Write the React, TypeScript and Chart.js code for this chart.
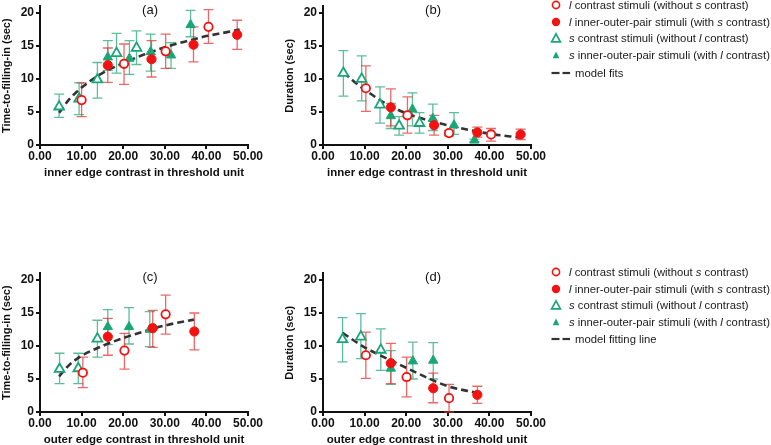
import React, { useEffect, useRef } from 'react';
import { Chart, registerables } from 'chart.js';

Chart.register(...registerables);

const RED = '#f21212';
const GREEN = '#19a677';
const RED_BAR = 'rgba(228, 45, 45, 0.72)';
const GREEN_BAR = 'rgba(30, 165, 115, 0.72)';
const FIT = '#333333';
const FONT = "'Liberation Sans', Arial, Helvetica, sans-serif";

// ---------- Panel (a): inner edge, time-to-filling-in ----------
const aOpenCircleX = [10.0, 20.2, 30.2, 40.5];
const aOpenCircleY = [6.8, 12.3, 14.2, 17.9];
const aOpenCircleHi = [9.4, 15.3, 16.8, 20.5];
const aOpenCircleLo = [4.3, 9.2, 11.6, 15.4];
const aFilledCircleX = [16.3, 26.8, 36.9, 47.4];
const aFilledCircleY = [12.1, 13.0, 15.2, 16.7];
const aFilledCircleHi = [14.7, 15.8, 17.9, 18.9];
const aFilledCircleLo = [9.5, 10.3, 12.6, 14.5];
const aOpenTriX = [4.6, 9.4, 13.8, 18.4, 23.2];
const aOpenTriY = [5.8, 7.0, 9.9, 13.9, 14.7];
const aOpenTriHi = [7.7, 9.4, 12.5, 16.9, 17.3];
const aOpenTriLo = [4.2, 4.6, 7.1, 10.9, 12.2];
const aFilledTriX = [16.3, 21.5, 26.6, 31.5, 36.2];
const aFilledTriY = [13.3, 13.1, 14.1, 13.6, 18.2];
const aFilledTriHi = [15.8, 15.8, 16.8, 15.5, 20.4];
const aFilledTriLo = [11.3, 10.7, 11.2, 11.6, 16.4];
const aFitX = [4.6, 7, 10, 15, 20, 25, 30, 35, 40, 45, 48];
const aFitY = [4.9, 6.9, 8.7, 10.9, 12.4, 13.7, 14.8, 15.7, 16.5, 17.1, 17.5];

// ---------- Panel (b): inner edge, duration ----------
const bOpenCircleX = [10.3, 20.3, 30.3, 40.4];
const bOpenCircleY = [8.6, 4.5, 1.8, 1.6];
const bOpenCircleHi = [12.0, 7.3, 2.2, 2.5];
const bOpenCircleLo = [5.1, 1.8, 1.4, 0.6];
const bFilledCircleX = [16.3, 26.7, 37.1, 47.5];
const bFilledCircleY = [5.7, 3.0, 1.9, 1.6];
const bFilledCircleHi = [8.5, 4.5, 2.7, 2.4];
const bFilledCircleLo = [2.9, 1.5, 1.2, 0.8];
const bOpenTriX = [4.9, 9.3, 13.7, 18.3, 23.2];
const bOpenTriY = [10.9, 10.0, 6.1, 2.9, 3.3];
const bOpenTriHi = [14.3, 13.5, 8.8, 4.3, 4.9];
const bOpenTriLo = [7.4, 6.7, 3.3, 1.5, 1.8];
const bFilledTriX = [16.3, 21.5, 26.4, 31.5, 36.4];
const bFilledTriY = [4.4, 5.4, 4.0, 3.0, 0.7];
const bFilledTriHi = [6.3, 7.9, 6.2, 4.9, 0.9];
const bFilledTriLo = [2.5, 2.9, 2.2, 1.6, 0.5];
const bFitX = [5, 7.5, 10, 15, 20, 25, 30, 35, 40, 45, 47.5];
const bFitY = [11.0, 9.6, 8.4, 6.3, 4.8, 3.8, 3.0, 2.3, 1.7, 1.3, 1.1];

// ---------- Panel (c): outer edge, time-to-filling-in ----------
const cOpenCircleX = [10.3, 20.3, 30.2];
const cOpenCircleY = [5.95, 9.3, 14.8];
const cOpenCircleHi = [8.3, 11.9, 17.7];
const cOpenCircleLo = [3.7, 6.5, 11.8];
const cFilledCircleX = [16.3, 27.1, 37.1];
const cFilledCircleY = [11.4, 12.7, 12.2];
const cFilledCircleHi = [14.2, 15.4, 15.0];
const cFilledCircleLo = [8.6, 9.8, 9.4];
const cOpenTriX = [4.7, 9.2, 13.8];
const cOpenTriY = [6.5, 6.6, 11.1];
const cOpenTriHi = [8.9, 8.9, 13.9];
const cOpenTriLo = [4.3, 4.3, 8.3];
const cFilledTriX = [16.3, 21.4, 26.4];
const cFilledTriY = [12.9, 12.9, 12.5];
const cFilledTriHi = [15.5, 15.8, 15.2];
const cFilledTriLo = [10.2, 10.3, 9.9];
const cFitX = [4.6, 7, 10, 15, 20, 25, 30, 37];
const cFitY = [5.4, 7.1, 8.5, 10.0, 11.2, 12.2, 13.1, 14.0];

// ---------- Panel (d): outer edge, duration ----------
const dOpenCircleX = [10.3, 20.1, 30.3];
const dOpenCircleY = [8.6, 5.3, 2.1];
const dOpenCircleHi = [12.1, 8.3, 4.2];
const dOpenCircleLo = [5.1, 2.3, 0.0];
const dFilledCircleX = [16.3, 26.5, 37.1];
const dFilledCircleY = [7.4, 3.6, 2.6];
const dFilledCircleHi = [10.4, 5.9, 3.9];
const dFilledCircleLo = [4.3, 1.4, 1.3];
const dOpenTriX = [4.7, 9.1, 13.9];
const dOpenTriY = [11.0, 11.4, 9.4];
const dOpenTriHi = [14.3, 14.9, 12.6];
const dOpenTriLo = [7.6, 8.1, 6.3];
const dFilledTriX = [16.3, 21.6, 26.5];
const dFilledTriY = [6.6, 7.7, 7.8];
const dFilledTriHi = [9.3, 10.6, 10.5];
const dFilledTriLo = [4.2, 5.0, 5.0];
const dFitX = [4.7, 7.5, 10, 15, 20, 25, 30, 37];
const dFitY = [12.0, 10.8, 9.8, 8.2, 6.7, 5.2, 3.9, 2.9];

const X_TICK_STEP = 10;
const Y_TICK_STEP = 5;
const X_MAX = 50;
const Y_MAX = 21;

const pts = (xs: number[], ys: number[]) => xs.map((x, i) => ({ x, y: ys[i] }));

const errorBarPlugin = {
  id: 'errorBars',
  beforeDatasetsDraw(chart: any) {
    const { ctx } = chart;
    const xs = chart.scales.x;
    const ys = chart.scales.y;
    ctx.save();
    const list = chart.data.datasets.slice().reverse();
    list.forEach((ds: any) => {
      if (!ds.errHi) return;
      ctx.strokeStyle = ds.errColor;
      ctx.lineWidth = 1.3;
      ds.data.forEach((p: any, i: number) => {
        const px = xs.getPixelForValue(p.x);
        const top = ys.getPixelForValue(ds.errHi[i]);
        const bot = ys.getPixelForValue(ds.errLo[i]);
        ctx.beginPath();
        ctx.moveTo(px, top);
        ctx.lineTo(px, bot);
        ctx.moveTo(px - 5, top);
        ctx.lineTo(px + 5, top);
        ctx.moveTo(px - 5, bot);
        ctx.lineTo(px + 5, bot);
        ctx.stroke();
      });
    });
    ctx.restore();
  },
};

const panelLabelPlugin = {
  id: 'panelLabel',
  afterDraw(chart: any, _args: any, opts: any) {
    const { ctx, chartArea } = chart;
    ctx.save();
    ctx.font = `13px ${FONT}`;
    ctx.fillStyle = '#111';
    ctx.textAlign = 'center';
    ctx.textBaseline = 'middle';
    ctx.fillText(opts.text, chartArea.left + chartArea.width * 0.529, chartArea.top + 4);
    ctx.restore();
  },
};

type PanelProps = {
  left: number;
  top: number;
  label: string;
  xTitle: string;
  yTitle: string;
  oc: [number[], number[], number[], number[]];
  fc: [number[], number[], number[], number[]];
  ot: [number[], number[], number[], number[]];
  ft: [number[], number[], number[], number[]];
  fit: [number[], number[]];
};

const W = 268;
const H = 185;

function Panel(p: PanelProps) {
  const ref = useRef<HTMLCanvasElement | null>(null);
  useEffect(() => {
    const tickFont = { family: FONT, size: 12, weight: 'bold' as const };
    const chart = new Chart(ref.current as HTMLCanvasElement, {
      type: 'scatter',
      data: {
        datasets: [
          {
            label: 'oc',
            data: pts(p.oc[0], p.oc[1]),
            pointStyle: 'circle',
            pointRadius: 4.2,
            borderColor: RED,
            backgroundColor: '#ffffff',
            borderWidth: 1.8,
            errHi: p.oc[2],
            errLo: p.oc[3],
            errColor: RED_BAR,
          } as any,
          {
            label: 'fc',
            data: pts(p.fc[0], p.fc[1]),
            pointStyle: 'circle',
            pointRadius: 4.6,
            borderColor: RED,
            backgroundColor: RED,
            borderWidth: 1,
            errHi: p.fc[2],
            errLo: p.fc[3],
            errColor: RED_BAR,
          } as any,
          {
            label: 'ot',
            data: pts(p.ot[0], p.ot[1]),
            pointStyle: 'triangle',
            pointRadius: 5.6,
            borderColor: GREEN,
            backgroundColor: '#ffffff',
            borderWidth: 1.8,
            errHi: p.ot[2],
            errLo: p.ot[3],
            errColor: GREEN_BAR,
          } as any,
          {
            label: 'ft',
            data: pts(p.ft[0], p.ft[1]),
            pointStyle: 'triangle',
            pointRadius: 5.4,
            borderColor: GREEN,
            backgroundColor: GREEN,
            borderWidth: 1,
            errHi: p.ft[2],
            errLo: p.ft[3],
            errColor: GREEN_BAR,
          } as any,
          {
            type: 'line',
            label: 'fit',
            data: pts(p.fit[0], p.fit[1]),
            borderColor: FIT,
            borderWidth: 2.6,
            borderDash: [7, 4],
            pointRadius: 0,
            fill: false,
            showLine: true,
            cubicInterpolationMode: 'monotone',
          } as any,
        ],
      },
      options: {
        responsive: false,
        animation: false,
        devicePixelRatio: 1,
        events: [],
        layout: { padding: { left: 0, right: 20, top: 11.4, bottom: 0 } },
        plugins: {
          legend: { display: false },
          tooltip: { enabled: false },
          panelLabel: { text: p.label },
        } as any,
        scales: {
          x: {
            type: 'linear',
            position: 'bottom',
            min: 0,
            max: X_MAX,
            ticks: {
              stepSize: X_TICK_STEP,
              callback: (v: any) => Number(v).toFixed(2),
              font: tickFont,
              color: '#111',
              padding: 0,
              maxRotation: 0,
              autoSkip: false,
            },
            grid: {
              display: true,
              drawOnChartArea: false,
              drawTicks: true,
              tickLength: 4,
              color: '#111',
              lineWidth: 2,
            },
            border: { display: true, color: '#111', width: 2 },
            title: {
              display: true,
              text: p.xTitle,
              font: { family: FONT, size: 11.5, weight: 'bold' },
              color: '#111',
              padding: 0,
            },
            afterFit: (s: any) => {
              s.height = 35;
            },
          },
          y: {
            type: 'linear',
            min: 0,
            max: Y_MAX,
            ticks: {
              stepSize: Y_TICK_STEP,
              includeBounds: false,
              callback: (v: any) => String(v),
              font: tickFont,
              color: '#111',
              padding: 2,
            },
            grid: {
              display: true,
              drawOnChartArea: false,
              drawTicks: true,
              tickLength: 4,
              color: '#111',
              lineWidth: 2,
            },
            border: { display: true, color: '#111', width: 2 },
            title: {
              display: true,
              text: p.yTitle,
              font: { family: FONT, size: 11, weight: 'bold' },
              color: '#111',
              padding: 0,
            },
            afterFit: (s: any) => {
              s.width = 40;
            },
          },
        },
      } as any,
      plugins: [errorBarPlugin, panelLabelPlugin],
    });
    return () => chart.destroy();
  }, []);
  return (
    <canvas
      ref={ref}
      width={W}
      height={H}
      style={{ position: 'absolute', left: p.left, top: p.top, width: W, height: H }}
    />
  );
}

function Marker({ kind, cy }: { kind: string; cy: number }) {
  const style: React.CSSProperties = { position: 'absolute', left: 548, top: cy - 6 };
  if (kind === 'oc')
    return (
      <svg width={16} height={12} style={style}>
        <circle cx={8} cy={6} r={3.6} fill="#fff" stroke={RED} strokeWidth={1.6} />
      </svg>
    );
  if (kind === 'fc')
    return (
      <svg width={16} height={12} style={style}>
        <circle cx={8} cy={6} r={4.2} fill={RED} />
      </svg>
    );
  if (kind === 'ot')
    return (
      <svg width={16} height={12} style={style}>
        <polygon points="8,1.8 12.4,9.8 3.6,9.8" fill="#fff" stroke={GREEN} strokeWidth={1.7} />
      </svg>
    );
  if (kind === 'ft')
    return (
      <svg width={16} height={12} style={style}>
        <polygon points="8,2.5 11.4,9.2 4.6,9.2" fill={GREEN} />
      </svg>
    );
  return (
    <svg width={24} height={12} style={{ position: 'absolute', left: 550, top: cy - 6 }}>
      <line x1={1.5} y1={6} x2={9.5} y2={6} stroke={FIT} strokeWidth={2.2} />
      <line x1={12.5} y1={6} x2={20} y2={6} stroke={FIT} strokeWidth={2.2} />
    </svg>
  );
}

function LegendRow({ kind, cy, children, textLeft }: { kind: string; cy: number; children: React.ReactNode; textLeft?: number }) {
  return (
    <>
      <Marker kind={kind} cy={cy} />
      <div
        style={{
          position: 'absolute',
          left: textLeft ?? 569,
          top: cy - 7,
          height: 14,
          lineHeight: '14px',
          fontFamily: FONT,
          fontSize: 11.3,
          color: '#1a1a1a',
          whiteSpace: 'nowrap',
        }}
      >
        {children}
      </div>
    </>
  );
}

function Legend({ rows, fitText }: { rows: number[]; fitText: string }) {
  return (
    <>
      <LegendRow kind="oc" cy={rows[0]}>
        <i>l</i> contrast stimuli (without <i>s</i> contrast)
      </LegendRow>
      <LegendRow kind="fc" cy={rows[1]}>
        <i>l</i> inner-outer-pair stimuli (with <i>s</i> contrast)
      </LegendRow>
      <LegendRow kind="ot" cy={rows[2]}>
        <i>s</i> contrast stimuli (without <i>l</i> contrast)
      </LegendRow>
      <LegendRow kind="ft" cy={rows[3]}>
        <i>s</i> inner-outer-pair stimuli (with <i>l</i> contrast)
      </LegendRow>
      <LegendRow kind="fit" cy={rows[4]} textLeft={575}>
        {fitText}
      </LegendRow>
    </>
  );
}

export default function App() {
  return (
    <div
      style={{
        position: 'absolute',
        left: 0,
        top: 0,
        width: 771,
        height: 445,
        overflow: 'hidden',
        background: '#ffffff',
      }}
    >
      <Panel
        left={0}
        top={-5}
        label="(a)"
        xTitle="inner edge contrast in threshold unit"
        yTitle="Time-to-filling-in (sec)"
        oc={[aOpenCircleX, aOpenCircleY, aOpenCircleHi, aOpenCircleLo]}
        fc={[aFilledCircleX, aFilledCircleY, aFilledCircleHi, aFilledCircleLo]}
        ot={[aOpenTriX, aOpenTriY, aOpenTriHi, aOpenTriLo]}
        ft={[aFilledTriX, aFilledTriY, aFilledTriHi, aFilledTriLo]}
        fit={[aFitX, aFitY]}
      />
      <Panel
        left={283}
        top={-5}
        label="(b)"
        xTitle="inner edge contrast in threshold unit"
        yTitle="Duration (sec)"
        oc={[bOpenCircleX, bOpenCircleY, bOpenCircleHi, bOpenCircleLo]}
        fc={[bFilledCircleX, bFilledCircleY, bFilledCircleHi, bFilledCircleLo]}
        ot={[bOpenTriX, bOpenTriY, bOpenTriHi, bOpenTriLo]}
        ft={[bFilledTriX, bFilledTriY, bFilledTriHi, bFilledTriLo]}
        fit={[bFitX, bFitY]}
      />
      <Panel
        left={0}
        top={262}
        label="(c)"
        xTitle="outer edge contrast in threshold unit"
        yTitle="Time-to-filling-in (sec)"
        oc={[cOpenCircleX, cOpenCircleY, cOpenCircleHi, cOpenCircleLo]}
        fc={[cFilledCircleX, cFilledCircleY, cFilledCircleHi, cFilledCircleLo]}
        ot={[cOpenTriX, cOpenTriY, cOpenTriHi, cOpenTriLo]}
        ft={[cFilledTriX, cFilledTriY, cFilledTriHi, cFilledTriLo]}
        fit={[cFitX, cFitY]}
      />
      <Panel
        left={283}
        top={262}
        label="(d)"
        xTitle="outer edge contrast in threshold unit"
        yTitle="Duration (sec)"
        oc={[dOpenCircleX, dOpenCircleY, dOpenCircleHi, dOpenCircleLo]}
        fc={[dFilledCircleX, dFilledCircleY, dFilledCircleHi, dFilledCircleLo]}
        ot={[dOpenTriX, dOpenTriY, dOpenTriHi, dOpenTriLo]}
        ft={[dFilledTriX, dFilledTriY, dFilledTriHi, dFilledTriLo]}
        fit={[dFitX, dFitY]}
      />
      <Legend rows={[5, 21.5, 38, 54.5, 73]} fitText="model fits" />
      <Legend rows={[272, 288.5, 305, 321.5, 338.5]} fitText="model fitting line" />
    </div>
  );
}
